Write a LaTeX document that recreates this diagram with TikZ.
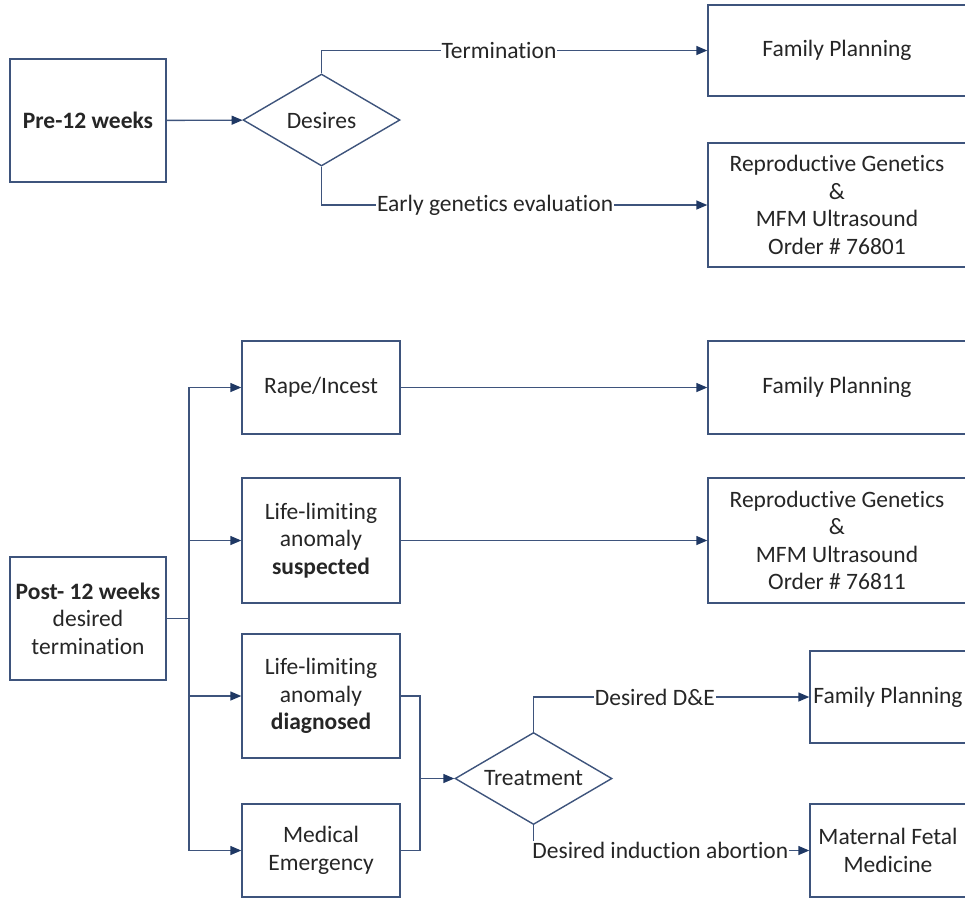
\documentclass[tikz,border=0pt]{standalone}
\usepackage{fontspec}
\setmainfont{Carlito}[Ligatures=NoCommon]
\usetikzlibrary{shapes.geometric,arrows.meta}
\definecolor{lineblue}{RGB}{62,84,124}
\definecolor{tipblue}{RGB}{31,56,100}
\definecolor{txt}{RGB}{38,38,38}

\begin{document}
\begin{tikzpicture}[
	x=1pt, y=-1pt, color=lineblue, line width=1.4pt,
	box/.style={rectangle, draw, fill=white, align=center, text=txt, inner sep=0pt,
		minimum width=158pt, minimum height=93pt, font=\fontsize{23.5pt}{27.5pt}\selectfont},
	dia/.style={diamond, draw, fill=white, text=txt, inner sep=0pt, shape aspect=1.7,
		minimum width=157pt, minimum height=92pt, font=\fontsize{23.5pt}{27.5pt}\selectfont},
	lbl/.style={fill=white, text=txt, inner sep=1pt, font=\fontsize{23.5pt}{27.5pt}\selectfont},
	arr/.style={-{Triangle[length=11pt,width=9pt,color=tipblue]}}
	]
	\useasboundingbox (0,0) rectangle (965,898);
	\clip (0,0) rectangle (965,898);
	% Pre-12 weeks
	\node[box, minimum width=156pt, minimum height=123pt] (pre) at (88,120.5) {\textbf{Pre-12 weeks}};
	\node[dia] (des) at (321.5,120) {Desires};
	\node[box, minimum width=258pt, minimum height=91pt] (fpa) at (837,50.5) {Family Planning};
	\node[box, minimum width=258pt, minimum height=124pt] (rga) at (837,205) {Reproductive Genetics\\\&\\MFM Ultrasound\\Order \# 76801};
	\draw[arr] (pre) -- (des);
	\draw[arr] (des.north) |- node[lbl, pos=0.73] (lterm) {Termination} (fpa);
	\draw[arr] (des.south) |- node[lbl, pos=0.725] (learly) {Early genetics evaluation} (rga);
	% Post-12 weeks
	\node[box, minimum width=156pt, minimum height=123pt] (post) at (88,618.5) {\textbf{Post- 12 weeks}\\desired\\termination};
	\node[box] (rape) at (321,387.5) {Rape/Incest};
	\node[box, minimum height=125pt] (susp) at (321,540.5) {Life-limiting\\anomaly\\\textbf{suspected}};
	\node[box, minimum height=124pt] (diag) at (321,696) {Life-limiting\\anomaly\\\textbf{diagnosed}};
	\node[box] (med) at (321,850.5) {Medical\\Emergency};
	\node[box, minimum width=258pt] (fpb) at (837,387.5) {Family Planning};
	\node[box, minimum width=258pt, minimum height=125pt] (rgb) at (837,540.5) {Reproductive Genetics\\\&\\MFM Ultrasound\\Order \# 76811};
	\node[dia] (trt) at (533.5,778.5) {Treatment};
	\node[box, minimum width=156pt, minimum height=92pt] (fpc) at (888,697) {Family Planning};
	\node[box, minimum width=156pt] (mfm) at (888,850.5) {Maternal Fetal\\Medicine};
	\coordinate (trk) at (189,618.5);
	\coordinate (mrg) at (420,778.5);
	\draw (post.east) -- (trk);
	\foreach \b in {rape,susp,diag,med}
		\draw[arr] (trk) |- (\b);
	\draw[arr] (rape) -- (fpb);
	\draw[arr] (susp) -- (rgb);
	\draw (diag) -| (mrg);
	\draw (med) -| (mrg);
	\draw[arr] (mrg) -- (trt);
	\draw[arr] (trt.north) |- node[lbl, pos=0.72] (lde) {Desired D\&E} (fpc);
	\draw[arr] (trt.south) |- node[lbl, pos=0.73] (lind) {Desired induction abortion} (mfm);
\end{tikzpicture}
\end{document}
